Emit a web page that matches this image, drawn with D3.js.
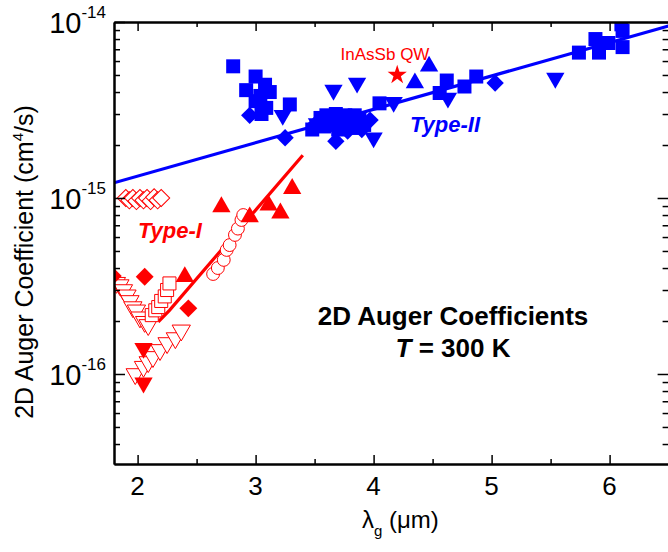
<!DOCTYPE html>
<html>
<head>
<meta charset="utf-8">
<script src="https://cdn.jsdelivr.net/npm/d3@7"></script>
<style>
  body { margin: 0; background: #fff; }
  svg { display: block; }
  text { font-family: "Liberation Sans", Arial, sans-serif; }
</style>
</head>
<body>
<div class="chart"></div>
<script>
// ---- data: [lambda_g (um), C (cm^4/s)] ----
var xTicks = [2, 3, 4, 5, 6];
var xMinorTicks = [2.5, 3.5, 4.5, 5.5, 6.5];
var yMajorTicks = [1e-16, 1e-15, 1e-14];
var yTickExp = ["-16", "-15", "-14"];

// Type-II (blue)
var t2Squares = [[2.81,5.6e-15],[3.0,4.9e-15],[2.92,4.1e-15],[3.08,4.4e-15],[3.12,4.0e-15],[3.04,3.8e-15],
  [3.0,3.55e-15],[3.09,3.25e-15],[3.05,3.0e-15],[3.29,3.4e-15],[3.48,2.45e-15],[3.55,2.85e-15],[3.6,2.95e-15],
  [3.64,2.6e-15],[3.68,3.0e-15],[3.72,2.75e-15],[3.76,2.95e-15],[3.8,2.65e-15],[3.84,2.95e-15],[3.88,2.8e-15],
  [3.92,2.6e-15],[3.58,2.55e-15],[3.7,2.45e-15],[3.82,2.5e-15],[3.62,2.8e-15],[3.74,2.6e-15],[4.05,3.45e-15],
  [4.56,3.95e-15],[4.62,4.65e-15],[4.77,4.3e-15],[4.87,4.9e-15],[5.74,6.7e-15],[5.88,8.0e-15],[5.91,6.7e-15],
  [5.99,7.6e-15],[6.11,8.9e-15],[6.11,7.2e-15],[6.1,9.7e-15]];
var t2Diamonds = [[2.95,2.95e-15],[3.25,2.2e-15],[3.68,2.1e-15],[3.5,2.6e-15],[3.78,2.4e-15],[3.9,2.45e-15],
  [3.97,2.77e-15],[5.03,4.5e-15]];
var t2TriDown = [[3.23,2.95e-15],[3.52,2.65e-15],[3.66,4.1e-15],[3.86,4.5e-15],[4.0,2.2e-15],[4.17,3.5e-15],
  [4.63,3.7e-15],[5.54,4.8e-15]];
var t2TriUp = [[4.35,4.5e-15],[4.47,5.6e-15]];

// Type-I (red)
var t1OpenDiamonds = [[1.90,1.0e-15],[1.93,0.97e-15],[1.96,1.0e-15],[1.99,0.96e-15],[2.02,1.0e-15],[2.05,0.97e-15],
  [2.08,1.0e-15],[2.11,0.96e-15],[2.14,1.01e-15],[2.17,0.97e-15],[2.20,1.0e-15]];
var t1TriUp = [[2.40,3.57e-16],[2.71,8.9e-16],[2.95,7.8e-16],[3.11,9.1e-16],[3.21,8.2e-16],[3.31,1.13e-15]];
var t1Circles = [[2.64,3.7e-16],[2.68,4.0e-16],[2.73,4.45e-16],[2.755,5.07e-16],[2.78,5.4e-16],[2.825,6.17e-16],
  [2.85,6.7e-16],[2.88,7.5e-16],[2.895,8.0e-16]];
var t1Diamonds = [[1.79,3.6e-16],[2.06,3.57e-16],[2.43,2.36e-16]];
var t1TriDown = [[2.05,1.4e-16],[2.05,8.9e-17]];
var t1OpenSquares = [[2.12,2.16e-16],[2.15,2.3e-16],[2.175,2.4e-16],[2.20,2.6e-16],[2.23,2.76e-16],[2.25,3.0e-16],[2.27,3.27e-16]];
var t1OpenTriA = [[1.82,3.3e-16],[1.85,3.2e-16],[1.88,3.0e-16],[1.91,2.8e-16],[1.935,2.6e-16],[1.96,2.4e-16],
  [1.99,2.3e-16],[2.02,2.1e-16],[2.06,1.98e-16],[2.09,1.9e-16]];
var t1OpenTriB = [[1.98,1.0e-16],[2.05,1.1e-16],[2.09,1.17e-16],[2.13,1.25e-16],[2.19,1.37e-16],[2.25,1.5e-16],
  [2.32,1.6e-16],[2.37,1.77e-16]];
var qwStar = [[4.2,5.0e-15]];

// fit lines
var t2Fit = [[1.8,1.22e-15],[6.5,9.5e-15]];
var t1Fit = [[2.175,1.98e-16],[2.27,2.3e-16],[3.40,1.75e-15]];

var svgWidth = 668;
var svgHeight = 552;
var plot = {left: 114, right: 668.6, top: 22, bottom: 464};

var svg = d3.select(".chart")
  .append("svg")
  .attr("width", svgWidth)
  .attr("height", svgHeight);

var x = d3.scaleLinear().domain([1.8, 6.5]).range([plot.left, plot.right]);
var y = d3.scaleLog().domain([3.08e-17, 1e-14]).range([plot.bottom, plot.top]);

svg.append("clipPath").attr("id", "clip")
  .append("rect")
  .attr("x", plot.left).attr("y", plot.top)
  .attr("width", plot.right - plot.left).attr("height", plot.bottom - plot.top);

var chart = svg.append("g").attr("clip-path", "url(#clip)");

var blue = "#0000ff";
var red = "#ff0000";

// fit lines
var line = d3.line().x(function(d) { return x(d[0]); }).y(function(d) { return y(d[1]); });
chart.append("path").datum(t2Fit).attr("d", line)
  .attr("fill", "none").attr("stroke", blue).attr("stroke-width", 3.2);
chart.append("path").datum(t1Fit).attr("d", line)
  .attr("fill", "none").attr("stroke", red).attr("stroke-width", 3.2);

// marker helper
function drawMarks(pts, shape, size, rot, fill, stroke) {
  chart.append("g").selectAll("path")
    .data(pts)
    .enter().append("path")
    .attr("d", d3.symbol().type(shape).size(size))
    .attr("transform", function(d) {
      return "translate(" + x(d[0]) + "," + y(d[1]) + ") rotate(" + rot + ")";
    })
    .attr("fill", fill)
    .attr("stroke", stroke)
    .attr("stroke-width", 1);
}

// red Type-I
drawMarks(t1OpenDiamonds, d3.symbolSquare, 145, 45, "#fff", red);
drawMarks(t1OpenTriA, d3.symbolTriangle, 145, 180, "#fff", red);
drawMarks(t1OpenTriB, d3.symbolTriangle, 145, 180, "#fff", red);
drawMarks(t1OpenSquares, d3.symbolSquare, 170, 0, "#fff", red);
drawMarks(t1Circles, d3.symbolCircle, 130, 0, "#fff", red);
drawMarks(t1Diamonds, d3.symbolSquare, 160, 45, red, "none");
drawMarks(t1TriDown, d3.symbolTriangle, 145, 180, red, "none");
drawMarks(t1TriUp, d3.symbolTriangle, 145, 0, red, "none");

// blue Type-II
drawMarks(t2Squares, d3.symbolSquare, 196, 0, blue, "none");
drawMarks(t2Diamonds, d3.symbolSquare, 150, 45, blue, "none");
drawMarks(t2TriDown, d3.symbolTriangle, 145, 180, blue, "none");
drawMarks(t2TriUp, d3.symbolTriangle, 145, 0, blue, "none");

drawMarks(qwStar, d3.symbolStar, 115, 0, red, "none");

// axes: major + minor ticks on all four sides, pointing inward
function tickAxis(axisFn, scale, values, size, pos) {
  var g = svg.append("g")
    .attr("transform", pos)
    .call(axisFn(scale).tickValues(values).tickSizeInner(-size).tickSizeOuter(0).tickFormat(""));
  g.selectAll("line").attr("stroke", "#000").attr("stroke-width", 1.5);
  g.select(".domain").attr("stroke", "#000").attr("stroke-width", 2);
  return g;
}

var yMinor = y.ticks().filter(function(v) { return yMajorTicks.indexOf(v) < 0; });

tickAxis(d3.axisBottom, x, xTicks, 9, "translate(0," + plot.bottom + ")");
tickAxis(d3.axisBottom, x, xMinorTicks, 5, "translate(0," + plot.bottom + ")");
tickAxis(d3.axisTop, x, xTicks, 9, "translate(0," + plot.top + ")");
tickAxis(d3.axisTop, x, xMinorTicks, 5, "translate(0," + plot.top + ")");
tickAxis(d3.axisLeft, y, yMajorTicks, 11, "translate(" + plot.left + ",0)");
tickAxis(d3.axisLeft, y, yMinor, 6, "translate(" + plot.left + ",0)");
tickAxis(d3.axisRight, y, yMajorTicks, 11, "translate(" + plot.right + ",0)");
tickAxis(d3.axisRight, y, yMinor, 6, "translate(" + plot.right + ",0)");

// x tick labels
svg.append("g").selectAll("text")
  .data(xTicks)
  .enter().append("text")
  .attr("x", function(d) { return x(d); })
  .attr("y", 495)
  .attr("text-anchor", "middle")
  .attr("font-size", 26)
  .text(function(d) { return d; });

// y tick labels 10^n
var yLab = svg.append("g").selectAll("text")
  .data(yMajorTicks)
  .enter().append("text")
  .attr("x", 106)
  .attr("y", function(d) { return y(d) + 11; })
  .attr("text-anchor", "end")
  .attr("font-size", 29);
yLab.append("tspan").text("10");
yLab.append("tspan").attr("font-size", 17).attr("dy", -15)
  .text(function(d, i) { return yTickExp[i]; });

// axis titles
var xt = svg.append("text").attr("x", 362).attr("y", 528).attr("font-size", 24);
xt.append("tspan").text("\u03bb");
xt.append("tspan").attr("font-size", 15).attr("dy", 8).text("g");
xt.append("tspan").attr("dy", -8).text(" (\u03bcm)");

var yt = svg.append("text")
  .attr("transform", "translate(33," + 262 + ") rotate(-90)")
  .attr("text-anchor", "middle")
  .attr("font-size", 25);
yt.append("tspan").text("2D Auger Coefficient (cm");
yt.append("tspan").attr("font-size", 15).attr("dy", -10).text("4");
yt.append("tspan").attr("dy", 10).text("/s)");

// annotations
svg.append("text").attr("x", 138).attr("y", 238)
  .attr("font-size", 22).attr("font-weight", "bold").attr("font-style", "italic")
  .attr("fill", red).text("Type-I");
svg.append("text").attr("x", 410).attr("y", 132)
  .attr("font-size", 22).attr("font-weight", "bold").attr("font-style", "italic")
  .attr("fill", blue).text("Type-II");
svg.append("text").attr("x", 385).attr("y", 60)
  .attr("text-anchor", "middle").attr("font-size", 17)
  .attr("fill", red).text("InAsSb QW");

svg.append("text").attr("x", 453).attr("y", 325)
  .attr("text-anchor", "middle").attr("font-size", 26).attr("font-weight", "bold")
  .text("2D Auger Coefficients");
var tl = svg.append("text").attr("x", 453).attr("y", 357)
  .attr("text-anchor", "middle").attr("font-size", 26).attr("font-weight", "bold");
tl.append("tspan").attr("font-style", "italic").text("T");
tl.append("tspan").text(" = 300 K");
</script>
</body>
</html>
